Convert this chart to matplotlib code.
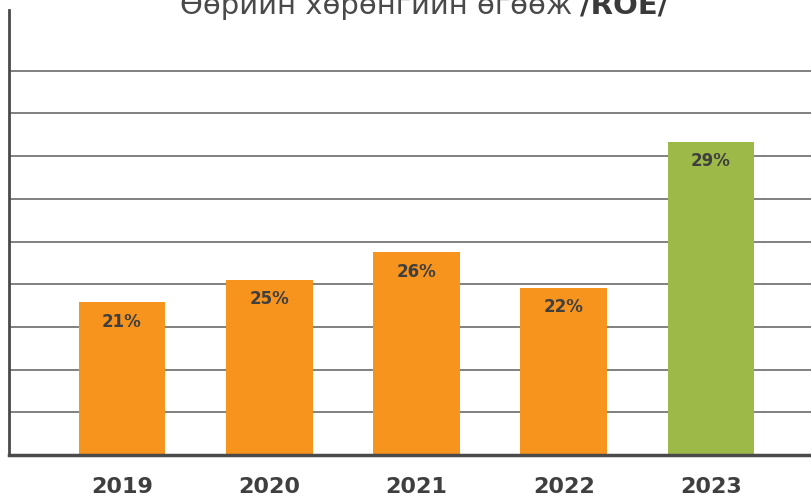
import matplotlib
matplotlib.use('Agg')
import matplotlib.pyplot as plt

years = ['2019', '2020', '2021', '2022', '2023']
bar_heights = [3.58, 4.10, 4.75, 3.91, 7.33]
bar_labels = ['21%', '25%', '26%', '22%', '29%']
bar_colors = ['#F7941D', '#F7941D', '#F7941D', '#F7941D', '#9DBA49']
title_main = 'Өөрийн хөрөнгийн өгөөж'
title_bold = '/ROE/'

text_color = '#3F3F3F'
font = 'DejaVu Sans'

fig = plt.figure(figsize=(8.11, 5.01), dpi=100)
ax = fig.add_axes([9 / 811, 1 - 455 / 501, 1 - 9 / 811, (455 - 10) / 501])

x = range(len(years))
ax.bar(x, bar_heights, width=0.59, color=bar_colors, zorder=3)

for i, (h, lab) in enumerate(zip(bar_heights, bar_labels)):
    ax.annotate(lab, (i, h), xytext=(0, -14), textcoords='offset points',
                ha='center', va='center', fontsize=12, fontweight='bold',
                color=text_color, family=font, zorder=4)

ax.set_xlim(-0.767, 4.679)
ax.set_ylim(0, 445 / 42.7)
ax.set_yticks(range(1, 10))
ax.yaxis.grid(True, color='#6b6b6b', lw=1.2, zorder=1)
ax.tick_params(axis='y', left=False, labelleft=False)
ax.set_xticks(list(x))
ax.set_xticklabels(years, fontsize=16, fontweight='bold', color=text_color, family=font)
ax.tick_params(axis='x', bottom=False, pad=12)

for s in ['top', 'right']:
    ax.spines[s].set_visible(False)
ax.spines['left'].set_color('#4a4a4a')
ax.spines['left'].set_linewidth(2)
ax.spines['bottom'].set_color('#4a4a4a')
ax.spines['bottom'].set_linewidth(2.5)
ax.spines['bottom'].set_zorder(5)

split_x = 576 / 811
base_y = 1 - 14 / 501
fig.text(split_x - 4 / 811, base_y, title_main, ha='right', va='baseline',
         fontsize=21, color='#4a4a4a', family='DejaVu Sans')
fig.text(split_x + 4 / 811, base_y, title_bold, ha='left', va='baseline',
         fontsize=21, fontweight='bold', color='#3a3a3a', family='DejaVu Sans')

fig.savefig('out.png', dpi=100)
